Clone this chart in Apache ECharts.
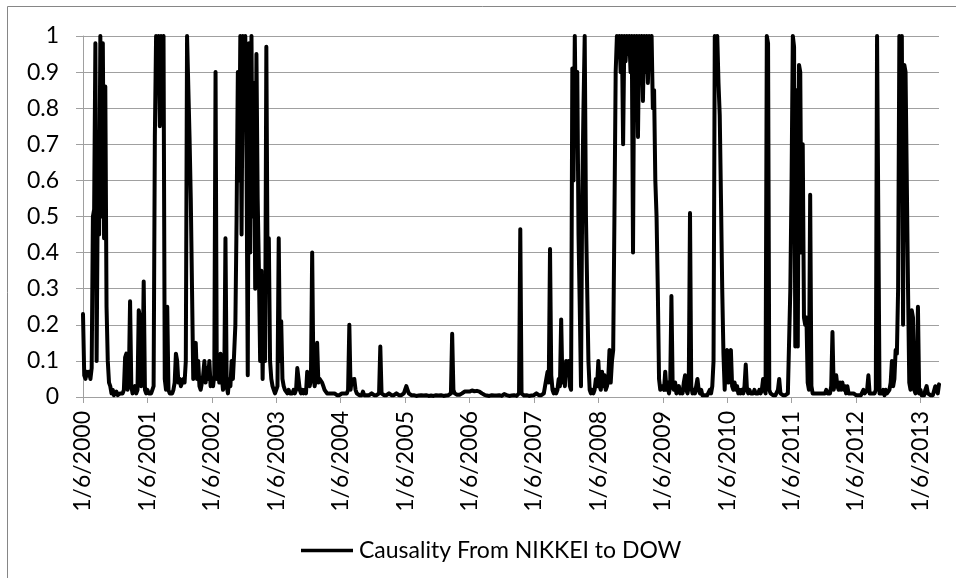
<!DOCTYPE html>
<html>
<head>
<meta charset="utf-8">
<script src="https://cdn.jsdelivr.net/npm/echarts@6/dist/echarts.min.js"></script>
<style>
html,body{margin:0;padding:0;background:#fff;}
#chart{width:956px;height:578px;}
</style>
</head>
<body>
<div id="chart"></div>
<script>
// Weekly values per year
const years = [2000, 2001, 2002, 2003, 2004, 2005, 2006, 2007, 2008, 2009, 2010, 2011, 2012, 2013];
const y2000 = [0.23,0.06,0.05,0.07,0.06,0.07,0.05,0.08,0.5,0.52,0.98,0.1,0.6,0.45,1.0,0.5,0.98,0.44,0.86,0.25,0.1,0.04,0.03,0.01,0.02,0.005,0.01,0.015,0.005,0.005,0.01,0.005,0.01,0.02,0.11,0.12,0.02,0.05,0.265,0.03,0.01,0.02,0.03,0.01,0.02,0.24,0.22,0.03,0.05,0.32,0.02,0.01];
const y2001 = [0.02,0.01,0.005,0.01,0.02,0.03,0.72,1.0,0.9,1.0,0.75,1.0,0.95,1.0,0.05,0.02,0.25,0.02,0.01,0.005,0.01,0.02,0.04,0.12,0.1,0.04,0.05,0.03,0.04,0.05,0.04,0.1,1.0,1.0,0.72,0.55,0.3,0.05,0.13,0.15,0.05,0.1,0.03,0.02,0.02,0.06,0.1,0.04,0.08,0.05,0.1,0.03];
const y2002 = [0.04,0.03,0.06,0.9,0.05,0.1,0.04,0.12,0.06,0.02,0.03,0.44,0.03,0.01,0.05,0.03,0.1,0.05,0.12,0.2,0.5,0.9,0.6,1.0,0.45,1.0,0.75,1.0,0.65,0.06,0.98,0.4,1.0,0.5,0.87,0.3,0.95,0.55,0.35,0.1,0.35,0.05,0.3,0.1,0.97,0.35,0.44,0.1,0.05,0.03,0.02,0.01];
const y2003 = [0.02,0.03,0.44,0.1,0.21,0.05,0.03,0.02,0.02,0.01,0.02,0.01,0.005,0.01,0.02,0.01,0.02,0.08,0.08,0.02,0.01,0.02,0.01,0.02,0.01,0.07,0.07,0.03,0.05,0.4,0.06,0.03,0.05,0.15,0.04,0.05,0.05,0.04,0.03,0.02,0.015,0.01,0.005,0.01,0.005,0.01,0.015,0.01,0.005,0.005,0.01,0.005];
const y2004 = [0.005,0.01,0.005,0.01,0.005,0.01,0.02,0.2,0.02,0.05,0.04,0.05,0.02,0.01,0.01,0.005,0.01,0.005,0.015,0.005,0.01,0.005,0.01,0.005,0.005,0.01,0.005,0.005,0.01,0.005,0.005,0.01,0.14,0.01,0.005,0.005,0.01,0.005,0.005,0.01,0.005,0.005,0.01,0.005,0.005,0.01,0.005,0.005,0.01,0.005,0.005,0.01];
const y2005 = [0.01,0.03,0.02,0.01,0.005,0.005,0.003,0.005,0.004,0.003,0.005,0.004,0.003,0.005,0.006,0.004,0.003,0.005,0.004,0.003,0.005,0.004,0.006,0.003,0.004,0.005,0.003,0.004,0.006,0.005,0.004,0.003,0.005,0.004,0.006,0.005,0.008,0.01,0.175,0.02,0.01,0.008,0.006,0.005,0.006,0.008,0.01,0.012,0.015,0.012,0.015,0.018];
const y2006 = [0.015,0.013,0.018,0.014,0.016,0.012,0.017,0.013,0.015,0.012,0.01,0.008,0.006,0.005,0.004,0.005,0.003,0.004,0.005,0.003,0.004,0.005,0.004,0.003,0.005,0.004,0.003,0.005,0.008,0.01,0.005,0.004,0.003,0.005,0.004,0.003,0.005,0.004,0.003,0.004,0.01,0.465,0.01,0.005,0.004,0.003,0.005,0.004,0.003,0.005,0.004,0.005];
const y2007 = [0.005,0.005,0.01,0.005,0.005,0.01,0.005,0.005,0.01,0.03,0.05,0.07,0.04,0.41,0.06,0.02,0.01,0.02,0.01,0.02,0.05,0.03,0.215,0.04,0.09,0.03,0.1,0.06,0.1,0.03,0.02,0.91,0.6,1.0,0.7,0.9,0.45,0.25,0.03,0.56,0.8,1.0,0.5,0.3,0.1,0.02,0.01,0.02,0.01,0.02,0.05,0.03];
const y2008 = [0.1,0.03,0.02,0.07,0.03,0.06,0.02,0.03,0.05,0.13,0.04,0.1,0.13,0.5,0.9,1.0,0.95,1.0,0.9,1.0,0.7,1.0,0.93,1.0,0.95,1.0,0.9,1.0,0.4,1.0,0.92,1.0,0.72,1.0,0.95,1.0,0.82,1.0,0.9,1.0,0.87,1.0,0.95,1.0,0.8,0.85,0.6,0.5,0.3,0.05,0.02,0.03];
const y2009 = [0.03,0.02,0.07,0.02,0.04,0.01,0.03,0.28,0.03,0.02,0.04,0.01,0.02,0.03,0.01,0.02,0.01,0.04,0.06,0.02,0.01,0.03,0.51,0.03,0.01,0.02,0.01,0.03,0.05,0.02,0.01,0.02,0.005,0.01,0.005,0.01,0.005,0.01,0.02,0.01,0.03,0.1,1.0,0.95,1.0,0.87,0.78,0.55,0.3,0.12,0.02,0.12];
const y2010 = [0.13,0.04,0.12,0.13,0.03,0.02,0.04,0.02,0.03,0.01,0.02,0.01,0.02,0.01,0.03,0.09,0.02,0.01,0.02,0.01,0.005,0.01,0.02,0.01,0.005,0.01,0.02,0.01,0.02,0.05,0.02,0.01,1.0,0.98,0.02,0.01,0.01,0.005,0.01,0.005,0.01,0.02,0.05,0.01,0.005,0.005,0.01,0.005,0.005,0.01,0.005,0.3];
const y2011 = [0.6,1.0,0.97,0.14,0.85,0.14,0.92,0.9,0.4,0.7,0.22,0.2,0.22,0.04,0.02,0.56,0.03,0.01,0.005,0.01,0.005,0.01,0.005,0.01,0.005,0.01,0.005,0.01,0.02,0.01,0.005,0.01,0.03,0.18,0.02,0.02,0.06,0.03,0.02,0.04,0.02,0.04,0.02,0.03,0.01,0.03,0.01,0.005,0.01,0.005,0.01,0.005];
const y2012 = [0.005,0.01,0.005,0.01,0.005,0.01,0.02,0.01,0.005,0.02,0.06,0.01,0.005,0.01,0.005,0.01,0.02,1.0,1.0,0.01,0.005,0.01,0.02,0.005,0.02,0.01,0.005,0.02,0.04,0.1,0.03,0.05,0.13,0.12,0.3,1.0,0.6,1.0,0.2,0.92,0.9,0.6,0.3,0.04,0.02,0.24,0.22,0.02,0.01,0.02,0.25,0.01];
const y2013 = [0.02,0.005,0.01,0.005,0.02,0.03,0.01,0.005,0.005,0.01,0.005,0.01,0.03,0.035,0.01,0.035];
const seriesName = 'Causality From NIKKEI to DOW';

const yearArrays = [y2000,y2001,y2002,y2003,y2004,y2005,y2006,y2007,y2008,y2009,y2010,y2011,y2012,y2013];
const categories = [];
const values = [];
yearArrays.forEach(function (arr, i) {
  const Y = years[i];
  arr.forEach(function (v, k) {
    const d = new Date(Y, 0, 6 + 7 * k);
    categories.push((d.getMonth() + 1) + '/' + d.getDate() + '/' + d.getFullYear());
    values.push(v);
  });
});
const showYear = function (idx) { return idx % 52 === 0; };

const chart = echarts.init(document.getElementById('chart'), null, {renderer: 'canvas'});
const FONT = 'Lato';
chart.setOption({
  animation: false,
  backgroundColor: '#ffffff',
  graphic: [{
    type: 'rect', silent: true, z: 100,
    shape: {x: 7.5, y: 6.5, width: 1000, height: 1000},
    style: {fill: 'none', stroke: '#868686', lineWidth: 1}
  }],
  grid: {left: 83, right: 17, top: 36, bottom: 181, containLabel: false},
  legend: {
    left: 296, top: 534,
    icon: 'rect',
    itemWidth: 52, itemHeight: 3.5, itemGap: 10,
    textStyle: {fontFamily: FONT, fontSize: 23, color: '#000', padding: [0, 0, 0, 1]},
    data: [seriesName]
  },
  xAxis: {
    type: 'category',
    data: categories,
    boundaryGap: false,
    axisLine: {show: true, lineStyle: {color: '#a0a0a0', width: 1}},
    axisTick: {show: true, interval: showYear, length: 6, lineStyle: {color: '#a0a0a0'}},
    axisLabel: {
      interval: showYear, rotate: 90, margin: 14,
      fontFamily: FONT, fontSize: 23, color: '#000'
    },
    splitLine: {show: false}
  },
  yAxis: {
    type: 'value',
    min: 0, max: 1, interval: 0.1,
    axisLine: {show: true, lineStyle: {color: '#a0a0a0', width: 1}},
    axisTick: {show: true, length: 7, lineStyle: {color: '#a0a0a0'}},
    axisLabel: {margin: 24, fontFamily: FONT, fontSize: 23, color: '#000'},
    splitLine: {show: true, lineStyle: {color: '#a0a0a0', width: 1}}
  },
  series: [{
    name: seriesName,
    type: 'line',
    data: values,
    symbol: 'none',
    sampling: null,
    lineStyle: {color: '#000', width: 4, cap: 'round', join: 'round'},
    itemStyle: {color: '#000'}
  }]
});
</script>
</body>
</html>
